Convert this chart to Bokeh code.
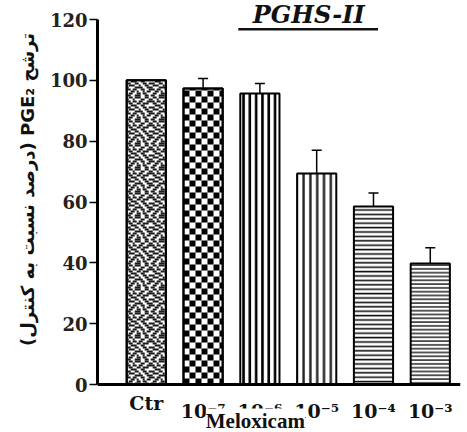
import math
from bokeh.plotting import figure
from bokeh.models import (ColumnDataSource, Whisker, TeeHead, Label, BoxAnnotation,
                          FixedTicker, Range1d, Span)
from bokeh.embed import file_html
from bokeh.resources import INLINE
from bokeh.core.properties import value

# ---- data ----
categories = ["Ctr", "10⁻⁷", "10⁻⁶", "10⁻⁵", "10⁻⁴", "10⁻³"]
means = [100, 97.3, 95.7, 69.4, 58.5, 39.8]
errors = [0, 3.3, 3.3, 7.6, 4.5, 5.2]
y_ticks = [0, 20, 40, 60, 80, 100, 120]
title_text = "PGHS-II"
x_title = "Meloxicam"
y_title = "(درصد نسبت به کنترل) PGE₂ ترشح"

# ---- layout ----
W, H = 467, 432
BL, BR = 97, 7
X0, X1 = -0.859, 5.532
Y0, Y1 = -15.78, 126.25
BAR_W = 0.69
SX = (W - BL - BR) / (X1 - X0)   # px per x unit
SY = H / (Y1 - Y0)               # px per y unit

p = figure(width=W, height=H, x_range=Range1d(X0, X1), y_range=Range1d(Y0, Y1),
           output_backend="svg", toolbar_location=None, x_axis_location=None,
           min_border_left=BL, min_border_right=BR, min_border_top=0, min_border_bottom=0)
p.outline_line_color = None
p.xgrid.visible = False
p.ygrid.visible = False
p.background_fill_color = "white"

idx = list(range(len(categories)))


def tile_quads(center, top, tile, cell_px):
    """Fill pattern tile clipped to the bar (center, 0..top) -> quad arrays."""
    left_px = (center - BAR_W / 2) * SX
    right_px = (center + BAR_W / 2) * SX
    top_px = top * SY
    L, R, B, T = [], [], [], []
    nrows = int(math.ceil(top_px / cell_px))
    ncols = int(math.ceil((right_px - left_px) / cell_px))
    th, tw = len(tile), len(tile[0])
    for r in range(nrows):
        y0 = r * cell_px
        y1 = min(top_px, y0 + cell_px)
        row = tile[r % th]
        c = 0
        while c < ncols:
            if row[c % tw] == "1":
                c2 = c
                while c2 + 1 < ncols and row[(c2 + 1) % tw] == "1":
                    c2 += 1
                x0 = left_px + c * cell_px
                x1 = min(right_px, left_px + (c2 + 1) * cell_px)
                L.append(x0 / SX); R.append(x1 / SX); B.append(y0 / SY); T.append(y1 / SY)
                c = c2 + 1
            else:
                c += 1
    return dict(left=L, right=R, bottom=B, top=T)


speckle_tile = ["110011100110", "011001101100", "001101001011", "110110011001",
                "100011110011", "011100100110", "110011001101", "001110011000",
                "011001101110", "110110110011", "100100011001", "011011100110"]
checker_tile = ["10", "01"]

styles = [
    None,
    None,
    dict(hatch_pattern="vertical_line", hatch_scale=6.3, hatch_weight=2.6, hatch_color="black"),
    dict(hatch_pattern="vertical_line", hatch_scale=6.8, hatch_weight=2.4, hatch_color="#222222"),
    dict(hatch_pattern="horizontal_line", hatch_scale=4.4, hatch_weight=1.6, hatch_color="#111111"),
    dict(hatch_pattern="horizontal_line", hatch_scale=3.8, hatch_weight=1.6, hatch_color="#333333"),
]
tiles = {0: (speckle_tile, 2.0, "#1a1a1a"), 1: (checker_tile, 6.0, "black")}

for i in idx:
    src = ColumnDataSource(dict(x=[idx[i]], top=[means[i]]))
    extra = styles[i] or {}
    p.vbar(x="x", top="top", bottom=0, width=BAR_W, source=src, fill_color="white",
           line_color="black", line_width=2, **extra)
    if i in tiles:
        tile, cell, col = tiles[i]
        q = tile_quads(idx[i], means[i], tile, cell)
        p.quad(source=ColumnDataSource(q), left="left", right="right", bottom="bottom", top="top",
               fill_color=col, line_color=None)
        p.vbar(x="x", top="top", bottom=0, width=BAR_W, source=src, fill_color=None,
               line_color="black", line_width=2)

err_idx = [i for i in idx if errors[i] > 0]
esrc = ColumnDataSource(dict(x=err_idx, lower=[means[i] for i in err_idx],
                             upper=[means[i] + errors[i] for i in err_idx]))
p.add_layout(Whisker(base="x", lower="lower", upper="upper", source=esrc, dimension="height",
                     line_color="black", line_width=1.5, lower_head=None,
                     upper_head=TeeHead(size=10, line_width=1.5, line_color="black")))

# x axis baseline and category labels
p.add_layout(Span(location=0, dimension="width", line_color="black", line_width=3))
lab_src = ColumnDataSource(dict(x=idx, text=categories, y=[0] * len(idx),
                                yoff=[18 if i == 0 else 26 for i in idx]))
p.text(x="x", y="y", text="text", source=lab_src, y_offset="yoff", text_align="center",
       text_baseline="alphabetic", text_font=value("DejaVu Serif"), text_font_style="bold",
       text_font_size="19px", text_color="#111111")

# y axis
ya = p.yaxis[0]
ya.ticker = FixedTicker(ticks=y_ticks)
ya.bounds = (0, 120)
ya.axis_line_width = 3
ya.axis_line_color = "black"
ya.major_tick_out = 8
ya.major_tick_in = 0
ya.major_tick_line_width = 1.5
ya.minor_tick_line_color = None
ya.major_label_standoff = 2
ya.major_label_text_font = "DejaVu Serif"
ya.major_label_text_font_style = "bold"
ya.major_label_text_font_size = "18px"
ya.major_label_text_color = "#222222"
# em spaces push the visible title up so it sits beside the 0..120 axis
ya.axis_label = "\u2003\u2003\u2003" + y_title
ya.axis_label_text_font = "DejaVu Sans"
ya.axis_label_text_font_style = "bold"
ya.axis_label_text_font_size = "18px"
ya.axis_label_standoff = 9
ya.axis_label_text_color = "#111111"

# title with underline
p.add_layout(Label(x=2.86, y=Y1 - 14 / SY, text=title_text, text_align="center", text_baseline="alphabetic",
                   text_font="DejaVu Serif", text_font_style="bold italic", text_font_size="24px",
                   text_color="#111111"))
p.add_layout(BoxAnnotation(left=1.62, right=4.08, bottom=Y1 - 30 / SY, top=Y1 - 27.5 / SY,
                           fill_color="#111111", fill_alpha=1, line_color=None))

# x title with white box
p.add_layout(Label(x=1.92, y=-36 / SY, text=x_title, text_align="center", text_baseline="alphabetic",
                   text_font="Liberation Serif", text_font_style="bold", text_font_size="21px",
                   text_color="#111111", background_fill_color="white", background_fill_alpha=1))

open("out.html", "w").write(file_html(p, INLINE))
